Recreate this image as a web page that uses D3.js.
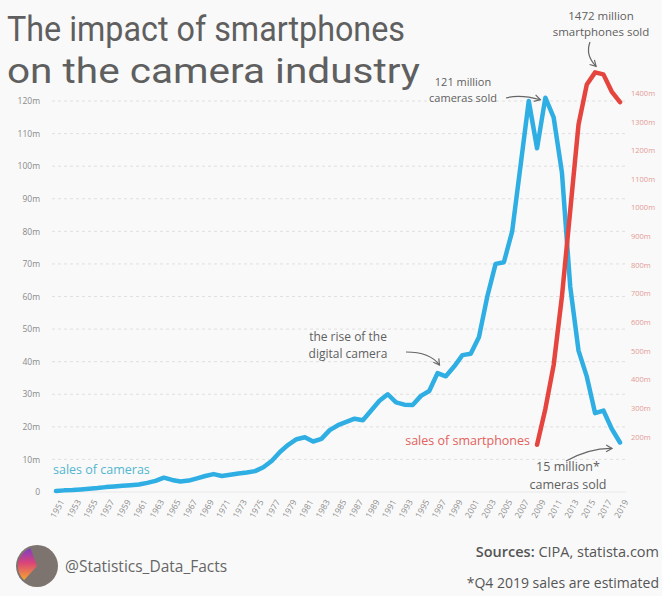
<!DOCTYPE html>
<html>
<head>
<meta charset="utf-8">
<script src="https://cdn.jsdelivr.net/npm/d3@7"></script>
<style>
  body { margin: 0; background: #f9f9f9; }
  text { font-family: "Open Sans", Roboto, sans-serif; }
</style>
</head>
<body>
<svg id="chart"></svg>
<script>
// camera shipments (millions), one value per year from 1951 to 2019
const firstYear = 1951;
const cameraSales = [
  0.3, 0.5, 0.6, 0.8, 1.0, 1.2, 1.5, 1.7, 1.9, 2.1,
  2.3, 2.8, 3.4, 4.4, 3.7, 3.2, 3.5, 4.2, 4.9, 5.5,
  4.9, 5.3, 5.7, 6.0, 6.4, 7.6, 9.5, 12.3, 14.5, 16.2,
  16.8, 15.5, 16.3, 19.0, 20.5, 21.5, 22.5, 22.0, 25.0, 28.0,
  30.0, 27.5, 26.8, 26.7, 29.5, 31.0, 36.5, 35.5, 38.5, 42.0,
  42.4, 47.6, 60.0, 70.0, 70.5, 80.0, 100.0, 120.0, 105.5, 121.0,
  115.0, 98.0, 63.0, 43.4, 35.4, 24.2, 25.0, 19.4, 15.2
];
// smartphone sales (millions)
const phoneYears = [2009, 2010, 2011, 2012, 2013, 2014, 2015, 2016, 2017, 2018, 2019];
const phoneSales = [172, 297, 450, 690, 990, 1290, 1430, 1472, 1465, 1405, 1368];

const xTicks = d3.range(1951, 2020, 2);
const leftTicks = [0, 10, 20, 30, 40, 50, 60, 70, 80, 90, 100, 110, 120];
const rightTicks = [200, 300, 400, 500, 600, 700, 800, 900, 1000, 1100, 1200, 1300, 1400];

const width = 662, height = 596;
const blue = "#2eaee3", red = "#e5453f", grey = "#5f5f5f";

const svg = d3.select("#chart").attr("width", width).attr("height", height);

const x = d3.scaleLinear().domain([1951, 2019]).range([56, 620]);
const yL = d3.scaleLinear().domain([0, 120]).range([492, 101]);
const yR = d3.scaleLinear().domain([0, 1400]).range([494, 93]);

// arrow head
const defs = svg.append("defs");
defs.append("marker")
  .attr("id", "head")
  .attr("viewBox", "0 0 10 10")
  .attr("refX", 8).attr("refY", 5)
  .attr("markerWidth", 7).attr("markerHeight", 7)
  .attr("orient", "auto")
  .append("path")
  .attr("d", "M1,1 L8,5 L1,9")
  .attr("fill", "none")
  .attr("stroke", "#666")
  .attr("stroke-width", 1.4);

// title (style, so the css default font does not win)
svg.append("text").attr("x", 7).attr("y", 41)
  .style("font-family", "Roboto, sans-serif")
  .attr("font-size", 35).attr("fill", grey)
  .attr("textLength", 398).attr("lengthAdjust", "spacingAndGlyphs")
  .text("The impact of smartphones");
svg.append("text").attr("x", 7).attr("y", 83)
  .style("font-family", "Roboto, sans-serif")
  .attr("font-size", 35).attr("fill", grey)
  .attr("textLength", 413).attr("lengthAdjust", "spacingAndGlyphs")
  .text("on the camera industry");

// grid
svg.append("g")
  .selectAll("line")
  .data(leftTicks)
  .join("line")
  .attr("x1", 52).attr("x2", 626)
  .attr("y1", d => yL(d)).attr("y2", d => yL(d))
  .attr("stroke", d => d === 0 ? "#e6e6e6" : "#d9d9d9")
  .attr("stroke-dasharray", d => d === 0 ? null : "3,3")
  .attr("stroke-width", 0.8);

// left axis
const gL = svg.append("g")
  .attr("transform", "translate(40,0)")
  .call(d3.axisLeft(yL).tickValues(leftTicks).tickSize(0).tickPadding(0)
    .tickFormat(d => d === 0 ? "0" : d + "m"));
gL.select(".domain").remove();
gL.selectAll("text").attr("font-size", 8.5).attr("fill", "#8a8a8a");

// right axis
const gR = svg.append("g")
  .attr("transform", "translate(631,0)")
  .call(d3.axisRight(yR).tickValues(rightTicks).tickSize(0).tickPadding(0)
    .tickFormat(d => d + "m"));
gR.select(".domain").remove();
gR.selectAll("text").attr("font-size", 7.5).attr("fill", "#e39a96");

// x axis
const gX = svg.append("g")
  .attr("transform", "translate(0,500)")
  .call(d3.axisBottom(x).tickValues(xTicks).tickSize(0).tickFormat(d3.format("d")));
gX.select(".domain").remove();
gX.selectAll("text")
  .attr("font-size", 8.5).attr("fill", "#8a8a8a")
  .attr("text-anchor", "end")
  .attr("dx", "0.3em").attr("dy", "0.6em")
  .attr("transform", "rotate(-60)");

const line = d3.line().x(d => x(d[0])).y(d => d[1]);

// cameras
svg.append("path")
  .datum(cameraSales.map((v, i) => [firstYear + i, yL(v)]))
  .attr("d", line)
  .attr("fill", "none").attr("stroke", blue)
  .attr("stroke-width", 4.5)
  .attr("stroke-linejoin", "round").attr("stroke-linecap", "round");

// smartphones
svg.append("path")
  .datum(phoneYears.map((yr, i) => [yr, yR(phoneSales[i])]))
  .attr("d", line)
  .attr("fill", "none").attr("stroke", red)
  .attr("stroke-width", 4.5)
  .attr("stroke-linejoin", "round").attr("stroke-linecap", "round");

// series labels
svg.append("text").attr("x", 53).attr("y", 474)
  .attr("font-size", 12.5).attr("fill", "#52b6cf").text("sales of cameras");
svg.append("text").attr("x", 530).attr("y", 445).attr("text-anchor", "end")
  .attr("font-size", 12.5).attr("fill", "#e2615c").text("sales of smartphones");

// annotations, one text per line
function note(lines, xPos, yPos, size, gap) {
  lines.forEach((t, i) => {
    svg.append("text")
      .attr("x", xPos).attr("y", yPos + i * gap)
      .attr("text-anchor", "middle")
      .attr("font-size", size).attr("fill", grey)
      .text(t);
  });
}
function arrow(d) {
  svg.append("path").attr("d", d)
    .attr("fill", "none").attr("stroke", "#666").attr("stroke-width", 1.2)
    .attr("marker-end", "url(#head)");
}

note(["1472 million", "smartphones sold"], 601, 20, 11.5, 16);
arrow(`M590,42 Q585,55 ${x(2016) + 1},${yR(1472) - 6}`);

note(["121 million", "cameras sold"], 463, 86, 11, 15.5);
arrow(`M506,98 Q520,94 ${x(2010) - 5},${yL(121) + 2}`);

note(["the rise of the", "digital camera"], 348, 341, 12, 16.5);
arrow(`M406,352 Q430,352 ${x(1997) + 2},${yL(36.5) - 8}`);

note(["15 million*", "cameras sold"], 568, 471, 12.5, 17.5);
arrow(`M566,461 Q590,448 ${x(2019) - 8},${yL(15.2) + 6}`);

// footer
const grad = defs.append("linearGradient").attr("id", "logo")
  .attr("x1", 0).attr("y1", 0).attr("x2", 0).attr("y2", 1);
grad.append("stop").attr("offset", "0%").attr("stop-color", "#7b3fc4");
grad.append("stop").attr("offset", "45%").attr("stop-color", "#d9437a");
grad.append("stop").attr("offset", "100%").attr("stop-color", "#f7a52c");

const logo = svg.append("g").attr("transform", "translate(37,566)");
logo.append("circle").attr("r", 21).attr("fill", "#7d7470");
logo.append("path")
  .attr("d", d3.arc().innerRadius(0).outerRadius(19)({ startAngle: -2.4, endAngle: -0.35 }))
  .attr("fill", "url(#logo)");

svg.append("text").attr("x", 65).attr("y", 572)
  .attr("font-size", 15.5).attr("fill", "#666").text("@Statistics_Data_Facts");

const src = svg.append("text").attr("x", 659).attr("y", 557)
  .attr("text-anchor", "end").attr("font-size", 14.5).attr("fill", "#555");
src.append("tspan").attr("font-weight", 600).text("Sources:");
src.append("tspan").text(" CIPA, statista.com");

svg.append("text").attr("x", 659).attr("y", 588)
  .attr("text-anchor", "end").attr("font-size", 14).attr("fill", "#555")
  .text("*Q4 2019 sales are estimated");
</script>
</body>
</html>
